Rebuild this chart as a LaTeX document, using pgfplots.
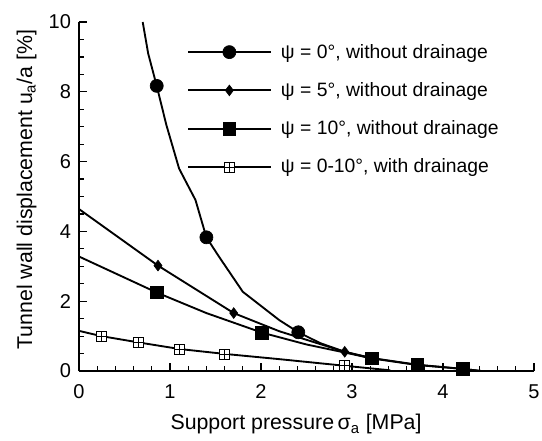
\documentclass[border=0pt]{standalone}
\usepackage{fontspec}
\setmainfont{Liberation Sans}
\usepackage{pgfplots}
\pgfplotsset{compat=1.18}
\pgfdeclareplotmark{sqplus}{%
  \pgfpathrectangle{\pgfpoint{-\pgfplotmarksize}{-\pgfplotmarksize}}{\pgfpoint{2\pgfplotmarksize}{2\pgfplotmarksize}}%
  \pgfusepathqfillstroke
  \pgfpathmoveto{\pgfpoint{-\pgfplotmarksize}{0pt}}\pgfpathlineto{\pgfpoint{\pgfplotmarksize}{0pt}}%
  \pgfpathmoveto{\pgfpoint{0pt}{-\pgfplotmarksize}}\pgfpathlineto{\pgfpoint{0pt}{\pgfplotmarksize}}%
  \pgfusepathqstroke}
\begin{document}
\begin{tikzpicture}
\path[use as bounding box] (-59.25pt,-51.75pt) rectangle (347.25pt,278.25pt);
\begin{axis}[
  scale only axis, width=341.25pt, height=261.75pt,
  xmin=0, xmax=5, ymin=0, ymax=10,
  axis x line=bottom, axis y line=left,
  axis line style={-, line width=1pt},
  xtick={0,1,2,3,4,5}, ytick={0,2,4,6,8,10},
  minor x tick num=4, minor y tick num=3,
  tick align=inside,
  major tick length=6pt, minor tick length=3.75pt,
  every tick/.style={line width=0.9pt, black},
  clip=false,
  /pgf/number format/assume math mode=true,
  tick label style={font=\fontsize{15}{18}\selectfont},
  xticklabel style={yshift=-6.5pt},
  yticklabel style={xshift=-2.5pt},
  xlabel={Support pressure\,σ\textsubscript{a} [MPa]},
  ylabel={Tunnel wall displacement u\textsubscript{a}/a [\%]},
  label style={font=\fontsize{16}{19}\selectfont},
  xlabel style={at={(axis description cs:0.477,-0.169)}, anchor=base},
  ylabel style={at={(axis description cs:-0.103,0.52)}, anchor=base},
  legend image code/.code={%
    \draw[#1, mark=none, line width=1.4pt] (0pt,0pt) -- (62pt,0pt);
    \draw[#1, mark indices={1}] plot coordinates {(31pt,0pt)};},
  legend style={draw=none, fill=none, at={(axis description cs:0.237,0.945)}, anchor=north west,
    font=\fontsize{14.5}{17}\selectfont, row sep=12.7pt, inner sep=0pt,
    /tikz/every odd column/.append style={column sep=5pt}},
  legend cell align=left,
]
\addplot[black, line width=1.4pt, mark=*, mark size=4.9pt, mark options={solid, fill=black, line width=0.5pt}, mark indices={3,7,11}] coordinates {
 (0.70,10) (0.76,9.1) (0.854,8.17) (0.96,7.05) (1.10,5.80) (1.28,4.90) (1.40,3.83)
 (1.54,3.27) (1.80,2.27) (2.20,1.46) (2.41,1.11) (2.65,0.80) (2.92,0.55) (3.22,0.36)};
\addlegendentry{ψ = 0°, without drainage}
\addplot[black, line width=1.4pt, mark=diamond*, mark size=4pt, mark options={solid, fill=black, line width=0.5pt}, mark indices={2,3,5}] coordinates {
 (0,4.64) (0.868,3.02) (1.70,1.66) (2.20,1.14) (2.92,0.55) (3.22,0.37) (3.72,0.18) (4.22,0.06) (4.42,0.0)};
\addlegendentry{ψ = 5°, without drainage}
\addplot[black, line width=1.4pt, mark=square*, mark size=4.7pt, mark options={solid, fill=black, line width=0.5pt}, mark indices={2,4,7,8,9}] coordinates {
 (0,3.28) (0.853,2.25) (1.40,1.66) (2.01,1.10) (2.50,0.76) (2.92,0.53) (3.22,0.36) (3.72,0.17) (4.22,0.06) (4.42,0.0)};
\addlegendentry{ψ = 10°, without drainage}
\addplot[black, line width=1.4pt, mark=sqplus, mark size=3.75pt, mark options={solid, fill=white, line width=0.6pt}, mark indices={2,3,4,5,7}] coordinates {
 (0,1.15) (0.245,1.00) (0.652,0.82) (1.106,0.63) (1.60,0.49) (2.20,0.34) (2.92,0.15) (3.42,0.02)};
\addlegendentry{ψ = 0-10°, with  drainage}
\end{axis}
\end{tikzpicture}
\end{document}
